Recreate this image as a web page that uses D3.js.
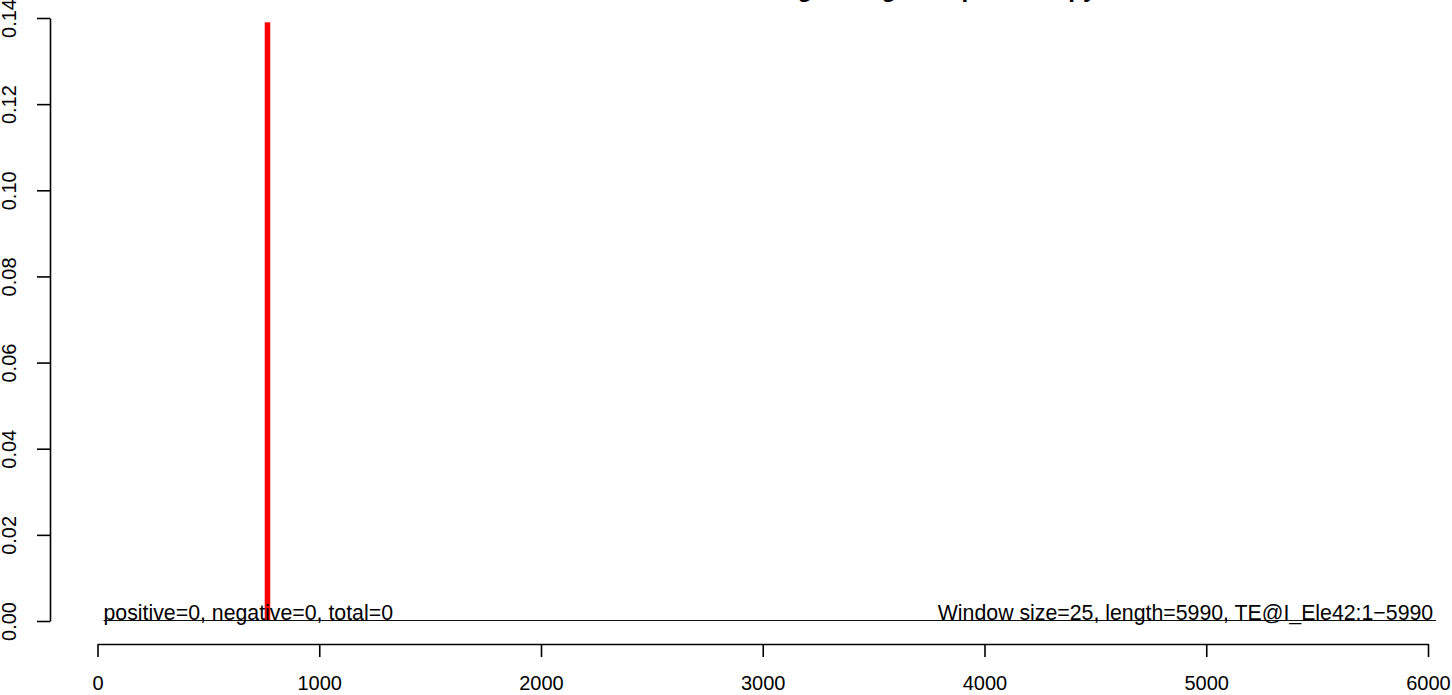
<!DOCTYPE html>
<html>
<head>
<meta charset="utf-8">
<script src="https://cdn.jsdelivr.net/npm/d3@7"></script>
<style>
  html, body { margin: 0; padding: 0; background: #fff; }
  svg { display: block; }
  text { font-family: "Liberation Sans", Arial, Helvetica, sans-serif; }
</style>
</head>
<body>
<svg id="chart" width="1452" height="695"></svg>
<script>
// ---- data ----
const titleText = "Strand bias of small RNA coverage along transposon copy";
const xTicks = [0, 1000, 2000, 3000, 4000, 5000, 6000];
const yTicks = [0.00, 0.02, 0.04, 0.06, 0.08, 0.10, 0.12, 0.14];
const barStarts = [754];
const barEnds = [779];
const barValues = [0.139];
const baselineRange = [27, 6037];
const leftNote = "positive=0, negative=0, total=0";
const rightNote = "Window size=25, length=5990, TE@I_Ele42:1\u22125990";

// ---- layout ----
const svg = d3.select("#chart");
const x = d3.scaleLinear().domain([0, 6000]).range([97.5, 1428]);
const y = d3.scaleLinear().domain([0, 0.14]).range([621, 18]);

// title (mostly cut off above the viewport)
svg.append("text")
  .attr("x", 762).attr("y", -3.5)
  .attr("text-anchor", "middle")
  .attr("font-weight", "bold")
  .attr("font-size", 24)
  .text(titleText);

// bars
svg.selectAll("rect.bar")
  .data(barValues)
  .enter().append("rect")
  .attr("class", "bar")
  .attr("x", (d, i) => x(barStarts[i]))
  .attr("width", (d, i) => x(barEnds[i]) - x(barStarts[i]))
  .attr("y", d => y(d))
  .attr("height", d => y(0) - y(d))
  .attr("fill", "#ff0000");

// zero line
svg.append("line")
  .attr("x1", x(baselineRange[0])).attr("x2", x(baselineRange[1]))
  .attr("y1", y(0) - 0.5).attr("y2", y(0) - 0.5)
  .attr("stroke", "#111").attr("stroke-width", 1);

// notes
svg.append("text")
  .attr("x", x(baselineRange[0])).attr("y", y(0) - 1.5)
  .attr("font-size", 21.3)
  .attr("fill", "#000")
  .text(leftNote);
svg.append("text")
  .attr("x", x(baselineRange[1]) - 3).attr("y", y(0) - 1.5)
  .attr("font-size", 21.3)
  .attr("text-anchor", "end")
  .attr("fill", "#000")
  .text(rightNote);

// x axis
const gx = svg.append("g")
  .attr("transform", "translate(0,644)")
  .call(d3.axisBottom(x).tickValues(xTicks).tickSize(13).tickSizeOuter(0).tickPadding(18.8).tickFormat(d3.format("d")));
gx.selectAll("text").attr("font-size", 20).attr("font-family", "Liberation Sans, Arial, sans-serif").attr("fill", "#000");
gx.selectAll("line, path").attr("stroke", "#000").attr("stroke-width", 1.6);

// y axis
const gy = svg.append("g")
  .attr("transform", "translate(50,0)")
  .call(d3.axisLeft(y).tickValues(yTicks).tickSize(13).tickSizeOuter(0).tickFormat(d3.format(".2f")));
gy.selectAll("text")
  .attr("font-size", 20).attr("font-family", "Liberation Sans, Arial, sans-serif").attr("fill", "#000")
  .attr("transform", "rotate(-90)")
  .attr("x", 0).attr("y", -34.5).attr("dy", 0)
  .attr("text-anchor", "middle");
gy.selectAll("line, path").attr("stroke", "#000").attr("stroke-width", 1.6);
</script>
</body>
</html>
